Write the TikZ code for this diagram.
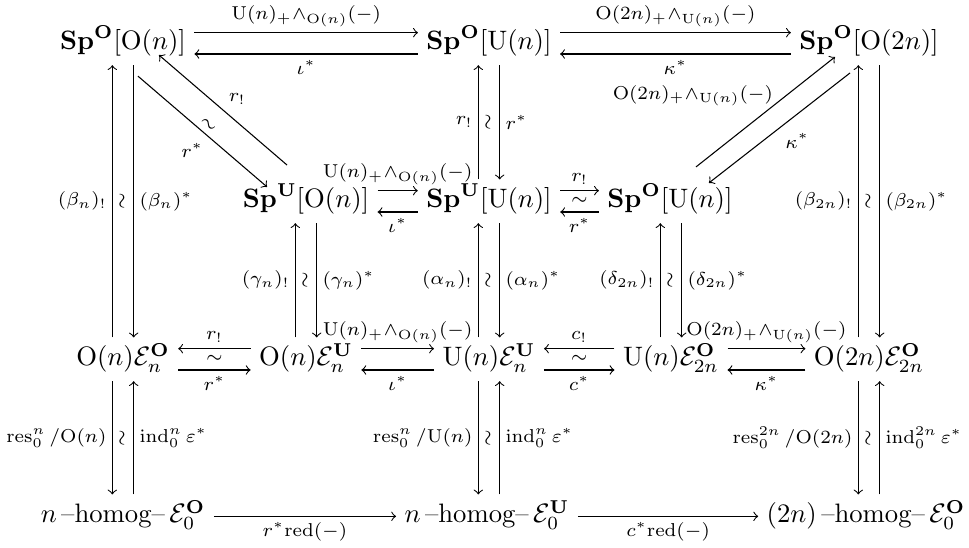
\documentclass[tikz,border=0pt]{standalone}
\usepackage{amsmath}
\usetikzlibrary{calc}
\newcommand{\wdg}{\mathord{\wedge}}
\begin{document}
\begin{tikzpicture}[x=0.375pt,y=-0.375pt,>=to,
  obj/.style={anchor=base,inner sep=3pt,text height=7.5pt,text depth=2.5pt},
  lab/.style={font=\scriptsize,inner sep=2pt},
  arr/.style={->,line width=0.4pt},
  wrl/.style={font=\scriptsize,inner sep=0pt,rotate=90}]
\useasboundingbox (0,0) rectangle (969,548);
% row 1
\node[obj] (A1) at (123,50) {$\mathbf{Sp}^{\mathbf{O}}[\mathrm{O}(n)]$};
\node[obj] (A3) at (489,50) {$\mathbf{Sp}^{\mathbf{O}}[\mathrm{U}(n)]$};
\node[obj] (A5) at (869,50) {$\mathbf{Sp}^{\mathbf{O}}[\mathrm{O}(2n)]$};
% row 2
\node[obj] (B2) at (306,208) {$\mathbf{Sp}^{\mathbf{U}}[\mathrm{O}(n)]$};
\node[obj] (B3) at (489,208) {$\mathbf{Sp}^{\mathbf{U}}[\mathrm{U}(n)]$};
\node[obj] (B4) at (670,208) {$\mathbf{Sp}^{\mathbf{O}}[\mathrm{U}(n)]$};
% row 3
\node[obj] (C1) at (123,366) {$\mathrm{O}(n)\mathcal{E}_n^{\mathbf{O}}$};
\node[obj] (C2) at (306,366) {$\mathrm{O}(n)\mathcal{E}_n^{\mathbf{U}}$};
\node[obj] (C3) at (489,366) {$\mathrm{U}(n)\mathcal{E}_n^{\mathbf{U}}$};
\node[obj] (C4) at (671,366) {$\mathrm{U}(n)\mathcal{E}_{2n}^{\mathbf{O}}$};
\node[obj] (C5) at (869,366) {$\mathrm{O}(2n)\mathcal{E}_{2n}^{\mathbf{O}}$};
% row 4
\node[obj] (D1) at (123,523) {$n\,\text{--homog--}\,\mathcal{E}_0^{\mathbf{O}}$};
\node[obj] (D3) at (487,523) {$n\,\text{--homog--}\,\mathcal{E}_0^{\mathbf{U}}$};
\node[obj] (D5) at (866,523) {$(2n)\,\text{--homog--}\,\mathcal{E}_0^{\mathbf{O}}$};

% row 1 horizontals
\draw[arr] ([yshift=4pt]A1.east) -- ([yshift=4pt]A3.west) node[midway,above,lab]{$\mathrm{U}(n)_+\wdg_{\mathrm{O}(n)}(-)$};
\draw[arr] ([yshift=-4pt]A3.west) -- ([yshift=-4pt]A1.east) node[midway,below,lab]{$\iota^*$};
\draw[arr] ([yshift=4pt]A3.east) -- ([yshift=4pt]A5.west) node[midway,above,lab]{$\mathrm{O}(2n)_+\wdg_{\mathrm{U}(n)}(-)$};
\draw[arr] ([yshift=-4pt]A5.west) -- ([yshift=-4pt]A3.east) node[midway,below,lab]{$\kappa^*$};

% left diagonals
\draw[arr] ([shift={(5.6pt,-12.3pt)}]A1.center) -- ([shift={(-14.6pt,5.4pt)}]B2.center)
  node[pos=0.55,below left,lab]{$r^*$} node[midway,sloped,above,lab,inner sep=1.5pt]{$\sim$};
\draw[arr] ([shift={(-7.1pt,13.6pt)}]B2.center) -- ([shift={(13.5pt,-4.4pt)}]A1.center)
  node[midway,above right,lab]{$r_!$};
% right diagonals
\draw[arr] ([shift={(9.75pt,12.9pt)}]B4.center) -- ([shift={(-12.75pt,-5.1pt)}]A5.center)
  node[midway,above left,lab,xshift=5pt]{$\mathrm{O}(2n)_+\wdg_{\mathrm{U}(n)}(-)$};
\draw[arr] ([shift={(-7.1pt,-11.1pt)}]A5.center) -- ([shift={(14.6pt,6.9pt)}]B4.center)
  node[midway,below right,lab]{$\kappa^*$};

% col 1 rows 1-3
\draw[arr] ([xshift=-4pt]C1.north) -- ([xshift=-4pt]A1.south) node[midway,left,lab]{$(\beta_n)_!$};
\draw[arr] ([xshift=4pt]A1.south) -- ([xshift=4pt]C1.north) node[midway,right,lab]{$(\beta_n)^*$};
\path (A1.south) -- (C1.north) node[midway,wrl]{$\sim$};
% col 3 rows 1-2
\draw[arr] ([xshift=-4pt]B3.north) -- ([xshift=-4pt]A3.south) node[midway,left,lab]{$r_!$};
\draw[arr] ([xshift=4pt]A3.south) -- ([xshift=4pt]B3.north) node[midway,right,lab]{$r^*$};
\path (A3.south) -- (B3.north) node[midway,wrl]{$\sim$};
% col 5 rows 1-3
\draw[arr] ([xshift=-4pt]C5.north) -- ([xshift=-4pt]A5.south) node[midway,left,lab]{$(\beta_{2n})_!$};
\draw[arr] ([xshift=4pt]A5.south) -- ([xshift=4pt]C5.north) node[midway,right,lab]{$(\beta_{2n})^*$};
\path (A5.south) -- (C5.north) node[midway,wrl]{$\sim$};

% row 2 horizontals
\draw[arr] ([yshift=4pt]B2.east) -- ([yshift=4pt]B3.west) node[midway,above,lab]{$\mathrm{U}(n)_+\wdg_{\mathrm{O}(n)}(-)$};
\draw[arr] ([yshift=-4pt]B3.west) -- ([yshift=-4pt]B2.east) node[midway,below,lab]{$\iota^*$};
\draw[arr] ([yshift=4pt]B3.east) -- ([yshift=4pt]B4.west) node[midway,above,lab]{$r_!$};
\draw[arr] ([yshift=-4pt]B4.west) -- ([yshift=-4pt]B3.east) node[midway,below,lab]{$r^*$};
\path (B3.east) -- (B4.west) node[midway,lab,inner sep=0pt]{$\sim$};

% rows 2-3 verticals
\draw[arr] ([xshift=-4pt]C2.north) -- ([xshift=-4pt]B2.south) node[midway,left,lab]{$(\gamma_n)_!$};
\draw[arr] ([xshift=4pt]B2.south) -- ([xshift=4pt]C2.north) node[midway,right,lab]{$(\gamma_n)^*$};
\path (B2.south) -- (C2.north) node[midway,wrl]{$\sim$};
\draw[arr] ([xshift=-4pt]C3.north) -- ([xshift=-4pt]B3.south) node[midway,left,lab]{$(\alpha_n)_!$};
\draw[arr] ([xshift=4pt]B3.south) -- ([xshift=4pt]C3.north) node[midway,right,lab]{$(\alpha_n)^*$};
\path (B3.south) -- (C3.north) node[midway,wrl]{$\sim$};
\draw[arr] ([xshift=-4pt]C4.north) -- ([xshift=-4pt]C4.north |- B4.south) node[midway,left,lab]{$(\delta_{2n})_!$};
\draw[arr] ([xshift=4pt]C4.north |- B4.south) -- ([xshift=4pt]C4.north) node[midway,right,lab]{$(\delta_{2n})^*$};
\path (C4.north |- B4.south) -- (C4.north) node[midway,wrl]{$\sim$};

% row 3 horizontals
\draw[arr] ([yshift=4pt]C2.west) -- ([yshift=4pt]C1.east) node[midway,above,lab]{$r_!$};
\draw[arr] ([yshift=-4pt]C1.east) -- ([yshift=-4pt]C2.west) node[midway,below,lab]{$r^*$};
\path (C1.east) -- (C2.west) node[midway,lab,inner sep=0pt]{$\sim$};
\draw[arr] ([yshift=4pt]C2.east) -- ([yshift=4pt]C3.west) node[midway,above,lab]{$\mathrm{U}(n)_+\wdg_{\mathrm{O}(n)}(-)$};
\draw[arr] ([yshift=-4pt]C3.west) -- ([yshift=-4pt]C2.east) node[midway,below,lab]{$\iota^*$};
\draw[arr] ([yshift=4pt]C4.west) -- ([yshift=4pt]C3.east) node[midway,above,lab]{$c_!$};
\draw[arr] ([yshift=-4pt]C3.east) -- ([yshift=-4pt]C4.west) node[midway,below,lab]{$c^*$};
\path (C3.east) -- (C4.west) node[midway,lab,inner sep=0pt]{$\sim$};
\draw[arr] ([yshift=4pt]C4.east) -- ([yshift=4pt]C5.west) node[midway,above,lab]{$\mathrm{O}(2n)_+\wdg_{\mathrm{U}(n)}(-)$};
\draw[arr] ([yshift=-4pt]C5.west) -- ([yshift=-4pt]C4.east) node[midway,below,lab]{$\kappa^*$};

% rows 3-4 verticals
\draw[arr] ([xshift=-4pt]C1.south) -- ([xshift=-4pt]C1.south |- D1.north) node[midway,left,lab]{$\mathrm{res}_0^n\,/\mathrm{O}(n)$};
\draw[arr] ([xshift=4pt]C1.south |- D1.north) -- ([xshift=4pt]C1.south) node[midway,right,lab]{$\mathrm{ind}_0^n\,\varepsilon^*$};
\path (C1.south) -- (C1.south |- D1.north) node[midway,wrl]{$\sim$};
\draw[arr] ([xshift=-4pt]C3.south) -- ([xshift=-4pt]C3.south |- D3.north) node[midway,left,lab]{$\mathrm{res}_0^n\,/\mathrm{U}(n)$};
\draw[arr] ([xshift=4pt]C3.south |- D3.north) -- ([xshift=4pt]C3.south) node[midway,right,lab]{$\mathrm{ind}_0^n\,\varepsilon^*$};
\path (C3.south) -- (C3.south |- D3.north) node[midway,wrl]{$\sim$};
\draw[arr] ([xshift=-4pt]C5.south) -- ([xshift=-4pt]C5.south |- D5.north) node[midway,left,lab]{$\mathrm{res}_0^{2n}\,/\mathrm{O}(2n)$};
\draw[arr] ([xshift=4pt]C5.south |- D5.north) -- ([xshift=4pt]C5.south) node[midway,right,lab]{$\mathrm{ind}_0^{2n}\,\varepsilon^*$};
\path (C5.south) -- (C5.south |- D5.north) node[midway,wrl]{$\sim$};

% row 4
\draw[arr] (D1.east) -- (D3.west) node[midway,below,lab]{$r^*\mathrm{red}(-)$};
\draw[arr] (D3.east) -- (D5.west) node[midway,below,lab]{$c^*\mathrm{red}(-)$};
\end{tikzpicture}
\end{document}
